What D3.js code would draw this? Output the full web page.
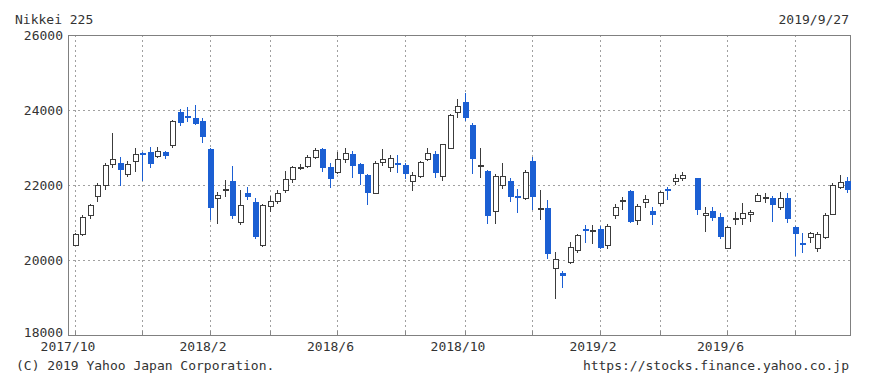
<!DOCTYPE html>
<html><head><meta charset="utf-8">
<script src="https://cdn.jsdelivr.net/npm/d3@7/dist/d3.min.js"></script>
<style>
body{margin:0;background:#fff}
svg{display:block}
text{font-family:"DejaVu Sans Mono","Liberation Mono",monospace;font-size:13px;fill:#333}
</style>
</head><body><svg id="c" width="870" height="381"></svg>
<script>
// Weekly candles (week ending Friday)
const weeks = ["2017-10-06","2017-10-13","2017-10-20","2017-10-27","2017-11-03","2017-11-10","2017-11-17","2017-11-24","2017-12-01","2017-12-08","2017-12-15","2017-12-22","2017-12-29",
"2018-01-05","2018-01-12","2018-01-19","2018-01-26","2018-02-02","2018-02-09","2018-02-16","2018-02-23","2018-03-02","2018-03-09","2018-03-16","2018-03-23","2018-03-30",
"2018-04-06","2018-04-13","2018-04-20","2018-04-27","2018-05-04","2018-05-11","2018-05-18","2018-05-25","2018-06-01","2018-06-08","2018-06-15","2018-06-22","2018-06-29",
"2018-07-06","2018-07-13","2018-07-20","2018-07-27","2018-08-03","2018-08-10","2018-08-17","2018-08-24","2018-08-31","2018-09-07","2018-09-14","2018-09-21","2018-09-28",
"2018-10-05","2018-10-12","2018-10-19","2018-10-26","2018-11-02","2018-11-09","2018-11-16","2018-11-23","2018-11-30","2018-12-07","2018-12-14","2018-12-21","2018-12-28",
"2019-01-04","2019-01-11","2019-01-18","2019-01-25","2019-02-01","2019-02-08","2019-02-15","2019-02-22","2019-03-01","2019-03-08","2019-03-15","2019-03-22","2019-03-29",
"2019-04-05","2019-04-12","2019-04-19","2019-04-26","2019-05-03","2019-05-10","2019-05-17","2019-05-24","2019-05-31","2019-06-07","2019-06-14","2019-06-21","2019-06-28",
"2019-07-05","2019-07-12","2019-07-19","2019-07-26","2019-08-02","2019-08-09","2019-08-16","2019-08-23","2019-08-30","2019-09-06","2019-09-13","2019-09-20","2019-09-27"];

const openV = [20400,20700,21200,21700,22010,22560,22590,22300,22640,22850,22880,22780,22890,
23073,23950,23830,23790,23700,22960,21650,21890,22100,21010,21800,21550,20400,
21430,21560,21870,22170,22470,22500,22750,22950,22480,22350,22700,22830,22550,
22270,21800,22620,22480,22600,22530,22100,22240,22700,22830,22250,23000,23950,
24200,23600,22500,22370,21300,22000,22100,21700,21650,22640,21370,21380,19785,
19655,19950,20270,20830,20780,20830,20400,21200,21580,21830,21060,21550,21300,
21520,21900,22100,22200,null,22190,21200,21300,21150,20330,21100,21120,21230,
21580,21680,21650,21400,21650,20880,20450,20620,20330,20620,21230,21950,22100];

const highV = [20710,21200,21500,22050,22600,23382,22750,22650,22994,22870,23020,23020,22920,
23730,24020,24084,24129,23790,22980,21810,22130,22502,21880,21950,21645,21500,
21700,21870,22370,22500,22550,22800,23000,23000,22600,22880,22980,22900,22600,
22300,22650,22950,22800,22800,22600,22350,22650,23000,22900,23100,23900,24300,
24448,23650,22980,22400,22300,22600,22200,21900,22400,22750,21870,21600,20220,
19700,20490,20700,20930,20930,20900,20950,21500,21690,21860,21500,21730,21420,
21850,21950,22300,22350,null,22200,21420,21420,21250,20900,21290,21510,21330,
21800,21780,21700,21820,21780,20900,20710,20750,20750,21250,22050,22260,22220];

const lowV = [20370,20650,21100,21550,21860,22450,21972,22210,22350,22119,22460,22710,22700,
23000,23580,23690,23600,23110,21078,20950,21680,21093,20930,21600,20555,20347,
21280,21500,21800,22050,22400,22450,22700,22360,21931,22300,22600,22180,21990,
21462,21750,22500,22355,22310,22150,21851,22200,22650,22200,22100,22950,23800,
23700,22300,22200,20971,20950,21900,21550,21250,21600,21330,21070,20030,18949,
19241,19900,20200,20445,20420,20300,20300,21100,21330,21000,20930,21380,20930,
21450,21600,22000,22100,null,21200,20750,21050,20550,20300,20930,20930,21020,
21550,21510,21020,21330,20980,20110,20180,20445,20220,20550,21200,21900,21780];

const closeV = [20690,21155,21457,22008,22539,22681,22397,22550,22819,22811,22553,22902,22764,
23714,23653,23808,23631,23274,21382,21720,21892,21182,21469,21676,20617,21454,
21567,21778,22162,22467,22472,22758,22930,22450,22171,22694,22851,22516,22304,
21788,22597,22697,22712,22525,22298,22270,22601,22865,22307,23094,23869,24120,
23783,22694,22532,21184,22243,22250,21680,21646,22351,21679,21375,20166,20015,
19562,20360,20666,20773,20788,20333,20901,21426,21603,21025,21451,21627,21206,
21807,21871,22200,22259,null,21345,21250,21117,20601,20885,21117,21259,21276,
21746,21686,21467,21658,21087,20685,20419,20711,20704,21200,21988,22079,21879];

const yTicks = [18000,20000,22000,24000,26000];
const yGrid = [20000,22000,24000];
const gridWeeks = ["2017-10-06","2017-12-08","2018-02-09","2018-04-06","2018-06-08","2018-08-10",
                   "2018-10-05","2018-12-07","2019-02-08","2019-04-05","2019-06-07","2019-08-09"];
const labelWeeks = ["2017-10-06","2018-02-09","2018-06-08","2018-10-05","2019-02-08","2019-06-07"];
const labelText = ["2017/10","2018/2","2018/6","2018/10","2019/2","2019/6"];

const BLUE = "#1b5fd3", DARK = "#3c3c3c";
const L = 68, R = 851, T = 35, B = 335;

const svg = d3.select("#c");
const x = d3.scaleBand().domain(weeks).range([71.25, 851.25]).padding(0);
const y = d3.scaleLinear().domain([18000, 26000]).range([B, T]);
const cx = d => x(d) + x.bandwidth() / 2;

// grid
svg.append("g").selectAll("line").data(yGrid).join("line")
  .attr("x1", L).attr("x2", R)
  .attr("y1", d => Math.round(y(d)) + 0.5).attr("y2", d => Math.round(y(d)) + 0.5)
  .attr("stroke", "#a0a0a0").attr("stroke-dasharray", "2,3");
svg.append("g").selectAll("line").data(gridWeeks).join("line")
  .attr("x1", d => Math.floor(cx(d)) + 0.5).attr("x2", d => Math.floor(cx(d)) + 0.5)
  .attr("y1", T).attr("y2", B)
  .attr("stroke", "#a0a0a0").attr("stroke-dasharray", "2,3");
// small ticks at bottom
svg.append("g").selectAll("line").data(gridWeeks).join("line")
  .attr("x1", d => Math.floor(cx(d)) + 0.5).attr("x2", d => Math.floor(cx(d)) + 0.5)
  .attr("y1", B - 4).attr("y2", B).attr("stroke", "#888");

// frame
svg.append("rect").attr("x", L + 0.5).attr("y", T + 0.5).attr("width", R - L - 1).attr("height", B - T)
  .attr("fill", "none").attr("stroke", "#808080");

// candles
const data = weeks.map((w, i) => ({w, o: openV[i], h: highV[i], l: lowV[i], c: closeV[i]}))
  .filter(d => d.o != null);
const g = svg.append("g");
data.forEach(d => {
  const down = d.c < d.o;
  const col = down ? BLUE : DARK;
  const xc = cx(d.w);
  const xl = Math.floor(xc) + 0.5;
  g.append("line").attr("x1", xl).attr("x2", xl)
    .attr("y1", Math.round(y(d.h))).attr("y2", Math.round(y(d.l)))
    .attr("stroke", col).attr("stroke-width", 1);
  const top = Math.round(y(Math.max(d.o, d.c)));
  const bot = Math.round(y(Math.min(d.o, d.c)));
  const bx = Math.floor(xc) - 2;
  if (down) {
    g.append("rect").attr("x", bx).attr("y", top).attr("width", 6).attr("height", Math.max(2, bot - top))
      .attr("fill", BLUE);
  } else {
    g.append("rect").attr("x", bx + 0.5).attr("y", top + 0.5).attr("width", 5).attr("height", Math.max(1, bot - top))
      .attr("fill", "#fff").attr("stroke", DARK).attr("stroke-width", 1);
  }
});

// y axis labels
const yAxis = d3.axisLeft(y).tickValues(yTicks).tickSize(0).tickPadding(5).tickFormat(d3.format("d"));
const ya = svg.append("g").attr("transform", `translate(${L},0)`).call(yAxis);
ya.select(".domain").remove();
ya.selectAll("text").attr("fill", "#333").style("font-size", "13px").style("font-family", "DejaVu Sans Mono");
ya.selectAll(".tick").filter(d => d === 18000).select("text").attr("dy", "0.32em").attr("y", -3);

// x axis labels
const xAxis = d3.axisBottom(x).tickValues(labelWeeks).tickSize(0).tickPadding(7)
  .tickFormat(d => labelText[labelWeeks.indexOf(d)]);
const xa = svg.append("g").attr("transform", `translate(-7,${B})`).call(xAxis);
xa.select(".domain").remove();
xa.selectAll("text").attr("fill", "#333").style("font-size", "13px").style("font-family", "DejaVu Sans Mono");

// titles
svg.append("text").attr("x", 15).attr("y", 24).text("Nikkei 225");
svg.append("text").attr("x", 849).attr("y", 24).attr("text-anchor", "end").text("2019/9/27");
svg.append("text").attr("x", 16).attr("y", 370).text("(C) 2019 Yahoo Japan Corporation.");
svg.append("text").attr("x", 849).attr("y", 370).attr("text-anchor", "end").text("https://stocks.finance.yahoo.co.jp");
</script>
</body></html>
